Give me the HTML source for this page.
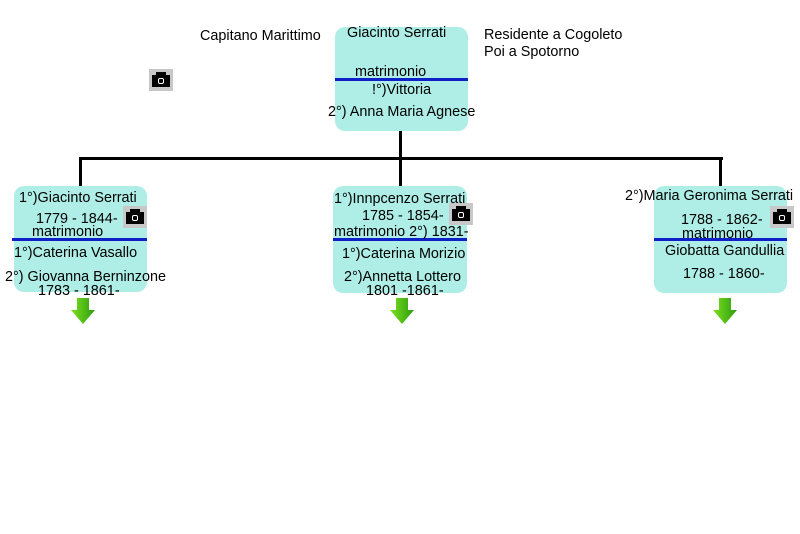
<!DOCTYPE html>
<html><head><meta charset="utf-8"><style>
body{margin:0;width:800px;height:534px;background:#fff;position:relative;overflow:hidden;font-family:"Liberation Sans",Arial,sans-serif;font-size:14.4px;color:#000}
.t{position:absolute;white-space:nowrap;line-height:15px;margin-top:2px}
.box{position:absolute;background:#aeeee6;border-radius:10px}
.bl{position:absolute;height:3px;background:#1020c8}
.k{position:absolute;background:#000}
.cam{position:absolute;width:24px;height:22px;background:#c8c8c8}
.cam:before{content:"";position:absolute;left:3px;top:6px;width:18px;height:12px;background:#000}
.cam:after{content:"";position:absolute;left:9px;top:9px;width:4px;height:4px;border:1px solid #fff;border-radius:2px;box-shadow:0 -6px 0 -1px #000}
.cam i{position:absolute;left:7px;top:3px;width:10px;height:4px;background:#000}
</style></head><body>
<div class="box" style="left:335px;top:27px;width:133px;height:104px"></div>
<div class="box" style="left:14px;top:186px;width:133px;height:106px"></div>
<div class="box" style="left:333px;top:186px;width:134px;height:107px"></div>
<div class="box" style="left:654px;top:186px;width:133px;height:107px"></div>

<div class="k" style="left:399px;top:131px;width:3px;height:28px"></div>
<div class="k" style="left:79px;top:157px;width:644px;height:3px"></div>
<div class="k" style="left:79px;top:157px;width:3px;height:29px"></div>
<div class="k" style="left:399px;top:157px;width:3px;height:29px"></div>
<div class="k" style="left:719px;top:157px;width:3px;height:29px"></div>

<div class="bl" style="left:335px;top:78px;width:133px"></div>
<div class="bl" style="left:12px;top:238px;width:135px"></div>
<div class="bl" style="left:333px;top:238px;width:134px"></div>
<div class="bl" style="left:654px;top:238px;width:133px"></div>

<div class="t" style="left:200px;top:27px">Capitano Marittimo</div>
<div class="t" style="left:484px;top:26px">Residente a Cogoleto</div>
<div class="t" style="left:484px;top:43px">Poi a Spotorno</div>
<div class="t" style="left:347px;top:24px">Giacinto Serrati</div>
<div class="t" style="left:355px;top:63px">matrimonio</div>
<div class="t" style="left:372px;top:81px">!°)Vittoria</div>
<div class="t" style="left:328px;top:103px">2°) Anna Maria Agnese</div>

<div class="t" style="left:19px;top:189px">1°)Giacinto Serrati</div>
<div class="t" style="left:36px;top:210px">1779 - 1844-</div>
<div class="t" style="left:32px;top:223px">matrimonio</div>
<div class="t" style="left:14px;top:244px">1°)Caterina Vasallo</div>
<div class="t" style="left:5px;top:268px">2°) Giovanna Berninzone</div>
<div class="t" style="left:38px;top:282px">1783 - 1861-</div>

<div class="t" style="left:334px;top:190px">1°)Innpcenzo Serrati</div>
<div class="t" style="left:362px;top:207px">1785 - 1854-</div>
<div class="t" style="left:334px;top:223px">matrimonio 2°) 1831-</div>
<div class="t" style="left:342px;top:245px">1°)Caterina Morizio</div>
<div class="t" style="left:344px;top:268px">2°)Annetta Lottero</div>
<div class="t" style="left:366px;top:282px">1801 -1861-</div>

<div class="t" style="left:625px;top:187px">2°)Maria Geronima Serrati</div>
<div class="t" style="left:681px;top:211px">1788 - 1862-</div>
<div class="t" style="left:682px;top:225px">matrimonio</div>
<div class="t" style="left:665px;top:242px">Giobatta Gandullia</div>
<div class="t" style="left:683px;top:265px">1788 - 1860-</div>

<div class="cam" style="left:149px;top:69px"><i></i></div>
<div class="cam" style="left:123px;top:206px"><i></i></div>
<div class="cam" style="left:449px;top:203px"><i></i></div>
<div class="cam" style="left:770px;top:206px"><i></i></div>

<svg style="position:absolute;left:0;top:0" width="800" height="534">
<defs><linearGradient id="g" x1="0" x2="1"><stop offset="0" stop-color="#7ee020"/><stop offset="1" stop-color="#2c9c10"/></linearGradient></defs>
<g fill="url(#g)">
<path d="M77 298h12v12h6l-12 14-12-14h6z"/>
<path d="M396 298h12v12h6l-12 14-12-14h6z"/>
<path d="M719 298h12v12h6l-12 14-12-14h6z"/>
</g></svg>
</body></html>
